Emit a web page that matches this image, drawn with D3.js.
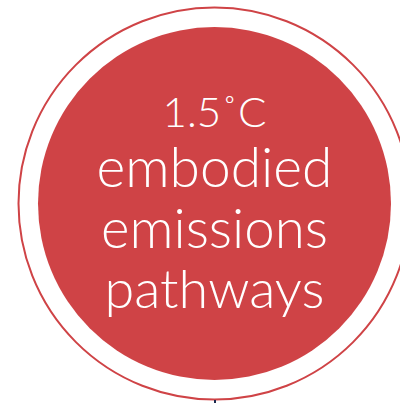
<!DOCTYPE html>
<html>
<head>
<meta charset="utf-8">
<script src="https://cdn.jsdelivr.net/npm/d3@7"></script>
<style>
  html, body { margin: 0; padding: 0; background: #fff; }
  svg { display: block; }
</style>
</head>
<body>
<div id="badge"></div>
<script>
// Text lines of the badge, top to bottom
const lines = ["1.5˚C", "embodied", "emissions", "pathways"];
// Target widths, one per line
const lineWidths = [104, 236, 227, 220];
// Font size for each line
const lineSizes = [42, 50, 50, 50];

const width = 400;
const height = 404;

const svg = d3.select("#badge")
  .append("svg")
    .attr("width", width)
    .attr("height", height)
    .attr("viewBox", [0, 0, width, height]);

const cx = 214.5;
const cy = 203.5;
const red = "#cf4346";

// Outer thin ring
svg.append("circle")
    .attr("cx", cx)
    .attr("cy", cy)
    .attr("r", 196)
    .attr("fill", "none")
    .attr("stroke", red)
    .attr("stroke-width", 2);

// Inner filled disc
svg.append("circle")
    .attr("cx", cx)
    .attr("cy", cy)
    .attr("r", 176.5)
    .attr("fill", red);

// Baselines of the text lines
const y = d3.scalePoint()
    .domain(lines)
    .range([127, 308]);

const text = svg.append("g")
  .selectAll("text")
  .data(lines)
  .join("text")
    .attr("x", cx)
    .attr("y", d => y(d))
    .attr("text-anchor", "middle")
    .attr("fill", "white")
    .attr("font-family", "Lato, 'Open Sans', sans-serif")
    .attr("font-weight", 300)
    .attr("font-size", (d, i) => lineSizes[i])
    .text(d => d);

// Fit each line to the width
text.each(function(d, i) {
  const w = this.getComputedTextLength();
  const size = lineSizes[i] * lineWidths[i] / w;
  d3.select(this).attr("font-size", size);
});

// Small dark tick under the ring
svg.append("rect")
    .attr("x", 214)
    .attr("y", 400)
    .attr("width", 2)
    .attr("height", 3)
    .attr("fill", "#1c2a4e");
</script>
</body>
</html>
